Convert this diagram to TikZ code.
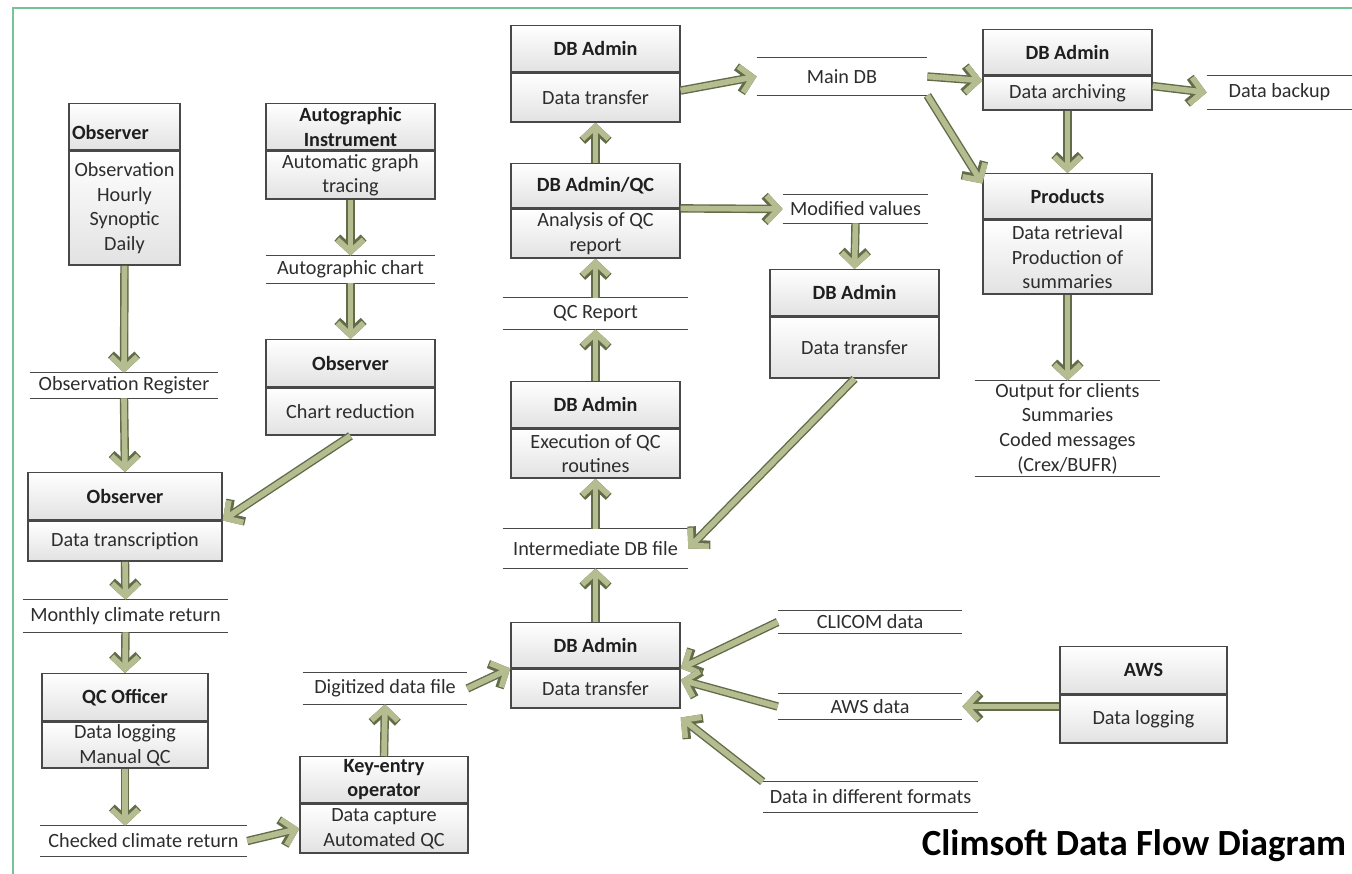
\documentclass[tikz,border=0pt]{standalone}
\usepackage{fontspec}
\setmainfont{Carlito}
\usetikzlibrary{positioning,arrows.meta}
\definecolor{flowfill}{RGB}{180,188,144}
\definecolor{flowedge}{RGB}{98,108,72}
\definecolor{boxline}{RGB}{72,72,72}
\definecolor{boxshade}{RGB}{226,226,226}
\definecolor{framegreen}{RGB}{118,196,150}
\definecolor{txt}{RGB}{45,45,45}
\def\drawflow{\draw[flow]}
\def\storenode{\node[store]}

\begin{document}
\begin{tikzpicture}[x=0.02cm,y=-0.02cm,
  font=\fontsize{11.5}{14}\selectfont,
  hdr/.style={draw=boxline,line width=0.8pt,top color=white,bottom color=boxshade,
    anchor=north,inner xsep=1pt,inner ysep=0.5pt,align=center,text=black!88,
    font=\fontsize{11.5}{14}\selectfont\bfseries},
  body/.style={draw=boxline,line width=0.8pt,top color=white,bottom color=boxshade,
    below=0pt of #1,inner xsep=1pt,inner ysep=0.5pt,align=center,text=txt},
  store/.style={inner sep=0pt,align=center,text=txt},
  flow/.style={draw=flowfill,line width=3.2pt,-{Straight Barb[length=7pt,width=15pt]},
    preaction={draw=flowedge,line width=4.8pt,-{Straight Barb[length=7pt,width=15pt]}}}]
\useasboundingbox (0,0) rectangle (1352,874);
\draw[framegreen,line width=1.2pt] (13,874) -- (13,8) -- (1352,8);

\node[hdr,minimum width=2.22cm,minimum height=0.92cm,text width=2.1cm,align=left,inner xsep=0.06cm] (obs1h) at (124.5,103) {\mbox{}\\[1pt]Observer};
\node[body=obs1h,minimum width=2.22cm,minimum height=2.28cm] (obs1) {Observation\\Hourly\\Synoptic\\Daily};
\node[hdr,minimum width=3.38cm,minimum height=0.92cm] (autoh) at (350.5,103) {Autographic\\Instrument};
\node[body=autoh,minimum width=3.38cm,minimum height=0.96cm] (auto) {Automatic graph\\tracing};
\node[hdr,minimum width=3.38cm,minimum height=0.94cm] (obs2h) at (350.5,339) {Observer};
\node[body=obs2h,minimum width=3.38cm,minimum height=0.94cm] (obs2) {Chart reduction};
\node[hdr,minimum width=3.88cm,minimum height=0.94cm] (obs3h) at (125,472) {Observer};
\node[body=obs3h,minimum width=3.88cm,minimum height=0.8cm] (obs3) {Data transcription};
\node[hdr,minimum width=3.32cm,minimum height=0.94cm] (qcoh) at (125,673) {QC Officer};
\node[body=qcoh,minimum width=3.32cm,minimum height=0.92cm] (qco) {Data logging\\Manual QC};
\node[hdr,minimum width=3.36cm,minimum height=0.92cm] (keyh) at (384,756) {Key-entry\\operator};
\node[body=keyh,minimum width=3.36cm,minimum height=0.98cm] (key) {Data capture\\Automated QC};
\node[hdr,minimum width=3.38cm,minimum height=0.9cm] (dbinh) at (595.5,622) {DB Admin};
\node[body=dbinh,minimum width=3.38cm,minimum height=0.78cm] (dbin) {Data transfer};
\node[hdr,minimum width=3.38cm,minimum height=0.92cm] (dbexeh) at (595.5,381) {DB Admin};
\node[body=dbexeh,minimum width=3.38cm,minimum height=0.98cm] (dbexe) {Execution of QC\\routines};
\node[hdr,minimum width=3.38cm,minimum height=0.88cm] (dbqch) at (595.5,163) {DB Admin/QC};
\node[body=dbqch,minimum width=3.38cm,minimum height=0.98cm] (dbqc) {Analysis of QC\\report};
\node[hdr,minimum width=3.38cm,minimum height=0.92cm] (dbouth) at (595.5,25) {DB Admin};
\node[body=dbouth,minimum width=3.38cm,minimum height=0.98cm] (dbout) {Data transfer};
\node[hdr,minimum width=3.38cm,minimum height=0.92cm] (dbmodh) at (854.5,269) {DB Admin};
\node[body=dbmodh,minimum width=3.38cm,minimum height=1.22cm] (dbmod) {Data transfer};
\node[hdr,minimum width=3.38cm,minimum height=0.9cm] (dbarchh) at (1067.5,29) {DB Admin};
\node[body=dbarchh,minimum width=3.38cm,minimum height=0.68cm] (dbarch) {Data archiving};
\node[hdr,minimum width=3.38cm,minimum height=0.9cm] (prodh) at (1067.5,173) {Products};
\node[body=prodh,minimum width=3.38cm,minimum height=1.48cm] (prod) {Data retrieval\\Production of\\summaries};
\node[hdr,minimum width=3.34cm,minimum height=0.94cm] (awsh) at (1143.5,646) {AWS};
\node[body=awsh,minimum width=3.34cm,minimum height=0.96cm] (aws) {Data logging};

\storenode[minimum width=3.76cm,minimum height=0.5cm] (reg) at (124,385.5) {Observation Register};
\storenode[minimum width=3.38cm,minimum height=0.54cm] (chart) at (350.5,269.5) {Autographic chart};
\storenode[minimum width=4.1cm,minimum height=0.64cm] (month) at (125.5,616) {Monthly climate return};
\storenode[minimum width=4.14cm,minimum height=0.6cm] (checked) at (143.5,841) {Checked climate return};
\storenode[minimum width=3.28cm,minimum height=0.62cm] (digit) at (385,688.5) {Digitized data file};
\storenode[minimum width=3.7cm,minimum height=0.78cm] (inter) at (595.5,548.5) {Intermediate DB file};
\storenode[minimum width=3.7cm,minimum height=0.62cm] (qcrep) at (595.5,313.5) {QC Report};
\storenode[minimum width=3.4cm,minimum height=0.74cm] (maindb) at (842,76.5) {Main DB};
\storenode[minimum width=2.9cm,minimum height=0.56cm] (modif) at (855.5,209) {Modified values};
\storenode[minimum width=2.9cm,minimum height=0.66cm] (backup) at (1279.5,92.5) {Data backup};
\storenode[minimum width=3.7cm,minimum height=1.9cm] (clients) at (1067.5,428.5) {Output for clients\\Summaries\\Coded messages\\(Crex/BUFR)};
\storenode[minimum width=3.68cm,minimum height=0.44cm] (clicom) at (870,622) {CLICOM data};
\storenode[minimum width=3.68cm,minimum height=0.5cm] (awsdata) at (870,706.5) {AWS data};
\storenode[minimum width=4.3cm,minimum height=0.6cm] (formats) at (870.5,797) {Data in different formats};
\foreach \s in {reg,chart,month,checked,digit,inter,qcrep,maindb,modif,backup,clients,clicom,awsdata,formats}
  \draw[boxline,line width=0.8pt] (\s.north west) -- (\s.north east) (\s.south west) -- (\s.south east);

\drawflow (obs1.south) -- (reg.north);
\drawflow (reg.south) -- (obs3h.north);
\drawflow (auto.south) -- (chart.north);
\drawflow (chart.south) -- (obs2h.north);
\drawflow (obs2.south) -- (obs3.north east);
\drawflow (obs3.south) -- (month.north);
\drawflow (month.south) -- (qcoh.north);
\drawflow (qco.south) -- (qco.south |- checked.north);
\drawflow (checked.east) -- (key.west);
\drawflow (keyh.north) -- (digit.south);
\drawflow (digit.east) -- (dbin.north west);
\drawflow (dbinh.north) -- (inter.south);
\drawflow (inter.north) -- (dbexe.south);
\drawflow (dbexeh.north) -- (qcrep.south);
\drawflow (qcrep.north) -- (dbqc.south);
\drawflow (dbqch.north) -- (dbout.south);
\drawflow ([yshift=4pt]dbout.east) -- (maindb.west);
\drawflow (dbqc.north east) -- (modif.west);
\drawflow (modif.south) -- (dbmodh.north);
\drawflow (dbmod.south) -- (inter.east);
\drawflow (maindb.east) -- ([yshift=-3pt]dbarch.north west);
\drawflow ([yshift=4pt]dbarch.east) -- (backup.west);
\drawflow (dbarch.south) -- (prodh.north);
\drawflow (maindb.south east) -- ([yshift=-6pt]prodh.north west);
\drawflow (prod.south) -- (clients.north);
\drawflow (clicom.west) -- (dbin.north east);
\drawflow (awsdata.west) -- ([yshift=5pt]dbin.east);
\drawflow (formats.north west) -- ([yshift=-5pt]dbin.south east);
\drawflow (aws.west |- awsdata.east) -- (awsdata.east);

\node[font=\fontsize{21}{24}\selectfont\bfseries,text=black] (title) at (1134,846) {Climsoft Data Flow Diagram};
\end{tikzpicture}
\end{document}
